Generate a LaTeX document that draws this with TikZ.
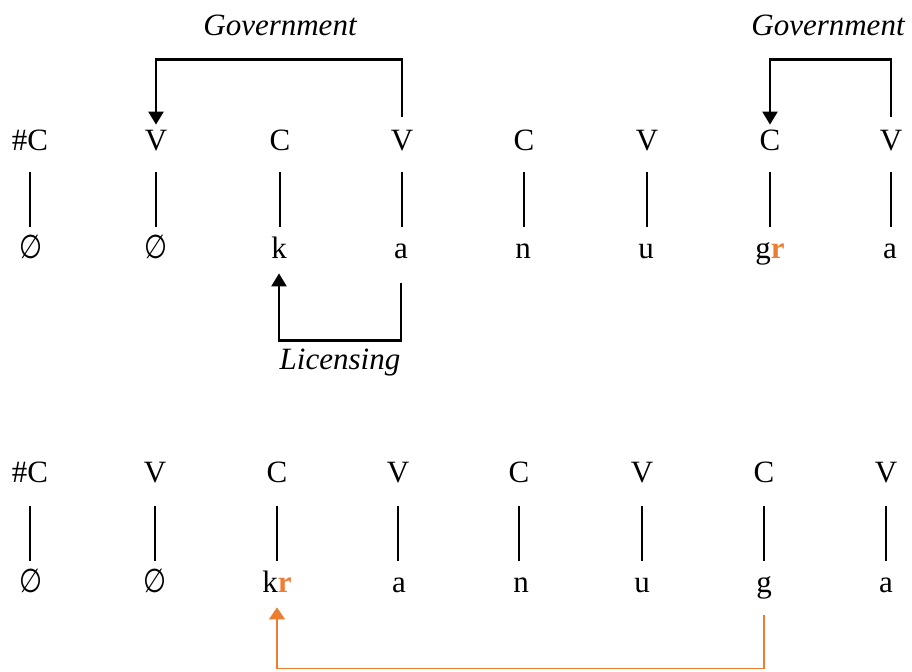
\documentclass[tikz,border=0pt]{standalone}
\usepackage{fontspec}
\setmainfont{Liberation Serif}
\newfontfamily\zerofont[FakeStretch=0.8]{DejaVu Sans}
\usetikzlibrary{arrows.meta}
\definecolor{rorange}{HTML}{ED7D31}
\newcommand{\nul}{{\zerofont\fontsize{16.5}{20}\selectfont\char"2205}}
\newcommand{\rr}{\textcolor{rorange}{\textbf{r}}}
\tikzset{
  slot/.style={anchor=base,inner sep=0pt,text height=10pt,text depth=0pt,font=\fontsize{15.5}{18}\selectfont},
  seg/.style={anchor=base,inner sep=0pt,text height=10pt,text depth=0pt,font=\fontsize{15.5}{18}\selectfont},
  assoc/.style={line width=1.2pt,shorten <=11pt,shorten >=5.5pt},
  govarrow/.style={-{Triangle[length=6.5pt,width=7.5pt]},line width=1.2pt},
  shiftarrow/.style={-{Triangle[length=6pt,width=8pt]},line width=0.6pt,rorange},
  relname/.style={anchor=base,inner sep=0pt,font=\fontsize{15.5}{18}\selectfont\itshape}
}
\begin{document}
\begin{tikzpicture}[x=0.5pt,y=-0.5pt]
  \useasboundingbox (0,0) rectangle (912,671);

  % upper form: skeleton
  \node[slot] (sk1) at (30,150) {\#C};
  \node[slot] (sk2) at (156,150) {V};
  \node[slot] (sk3) at (280,150) {C};
  \node[slot] (sk4) at (402,150) {V};
  \node[slot] (sk5) at (524,150) {C};
  \node[slot] (sk6) at (647,150) {V};
  \node[slot] (sk7) at (770,150) {C};
  \node[slot] (sk8) at (891,150) {V};
  % upper form: melody
  \node[seg] (mel1) at (31,258) {\nul};
  \node[seg] (mel2) at (156,258) {\nul};
  \node[seg] (mel3) at (279,258) {k};
  \node[seg] (mel4) at (401,258) {a};
  \node[seg] (mel5) at (523,258) {n};
  \node[seg] (mel6) at (646,258) {u};
  \node[seg] (mel7) at (770,258) {g\rr};
  \node[seg] (mel8) at (890,258) {a};

  \draw[assoc] (sk1.south) -- (sk1.south |- mel1.north);
  \draw[assoc] (sk2.south) -- (sk2.south |- mel2.north);
  \draw[assoc] (sk3.south) -- (sk3.south |- mel3.north);
  \draw[assoc] (sk4.south) -- (sk4.south |- mel4.north);
  \draw[assoc] (sk5.south) -- (sk5.south |- mel5.north);
  \draw[assoc] (sk6.south) -- (sk6.south |- mel6.north);
  \draw[assoc] (sk7.south) -- (sk7.south |- mel7.north);
  \draw[assoc] (sk8.south) -- (sk8.south |- mel8.north);

  % government and licensing
  \node[relname] (gov1) at (280,35) {Government};
  \node[relname] (gov2) at (828,35) {Government};
  \node[relname] (lic) at (340,369) {Licensing};
  \draw[govarrow,shorten <=6.5pt,shorten >=2.5pt] (sk4.north) -- ++(0,-70) -| (sk2.north);
  \draw[govarrow,shorten <=6.5pt,shorten >=2.5pt] (sk8.north) -- ++(0,-70) -| (sk7.north);
  \draw[govarrow,shorten <=12.5pt,shorten >=7.5pt] (mel4.south) -- ++(0,82) -| (mel3.south);

  % lower form: skeleton
  \node[slot] (skb1) at (30,482) {\#C};
  \node[slot] (skb2) at (155,482) {V};
  \node[slot] (skb3) at (277,482) {C};
  \node[slot] (skb4) at (398,482) {V};
  \node[slot] (skb5) at (519,482) {C};
  \node[slot] (skb6) at (642,482) {V};
  \node[slot] (skb7) at (764,482) {C};
  \node[slot] (skb8) at (886,482) {V};
  % lower form: melody
  \node[seg] (melb1) at (31,592) {\nul};
  \node[seg] (melb2) at (155,592) {\nul};
  \node[seg] (melb3) at (277,592) {k\rr};
  \node[seg] (melb4) at (399,592) {a};
  \node[seg] (melb5) at (521,592) {n};
  \node[seg] (melb6) at (642,592) {u};
  \node[seg] (melb7) at (764,592) {g};
  \node[seg] (melb8) at (886,592) {a};

  \draw[assoc,shorten <=12pt] (skb1.south) -- (skb1.south |- melb1.north);
  \draw[assoc,shorten <=12pt] (skb2.south) -- (skb2.south |- melb2.north);
  \draw[assoc,shorten <=12pt] (skb3.south) -- (skb3.south |- melb3.north);
  \draw[assoc,shorten <=12pt] (skb4.south) -- (skb4.south |- melb4.north);
  \draw[assoc,shorten <=12pt] (skb5.south) -- (skb5.south |- melb5.north);
  \draw[assoc,shorten <=12pt] (skb6.south) -- (skb6.south |- melb6.north);
  \draw[assoc,shorten <=12pt] (skb7.south) -- (skb7.south |- melb7.north);
  \draw[assoc,shorten <=12pt] (skb8.south) -- (skb8.south |- melb8.north);

  % r moves from g to k
  \draw[shiftarrow,shorten <=11.5pt,shorten >=7.5pt] (melb7.south) -- ++(0,76) -| (melb3.south);
\end{tikzpicture}
\end{document}
